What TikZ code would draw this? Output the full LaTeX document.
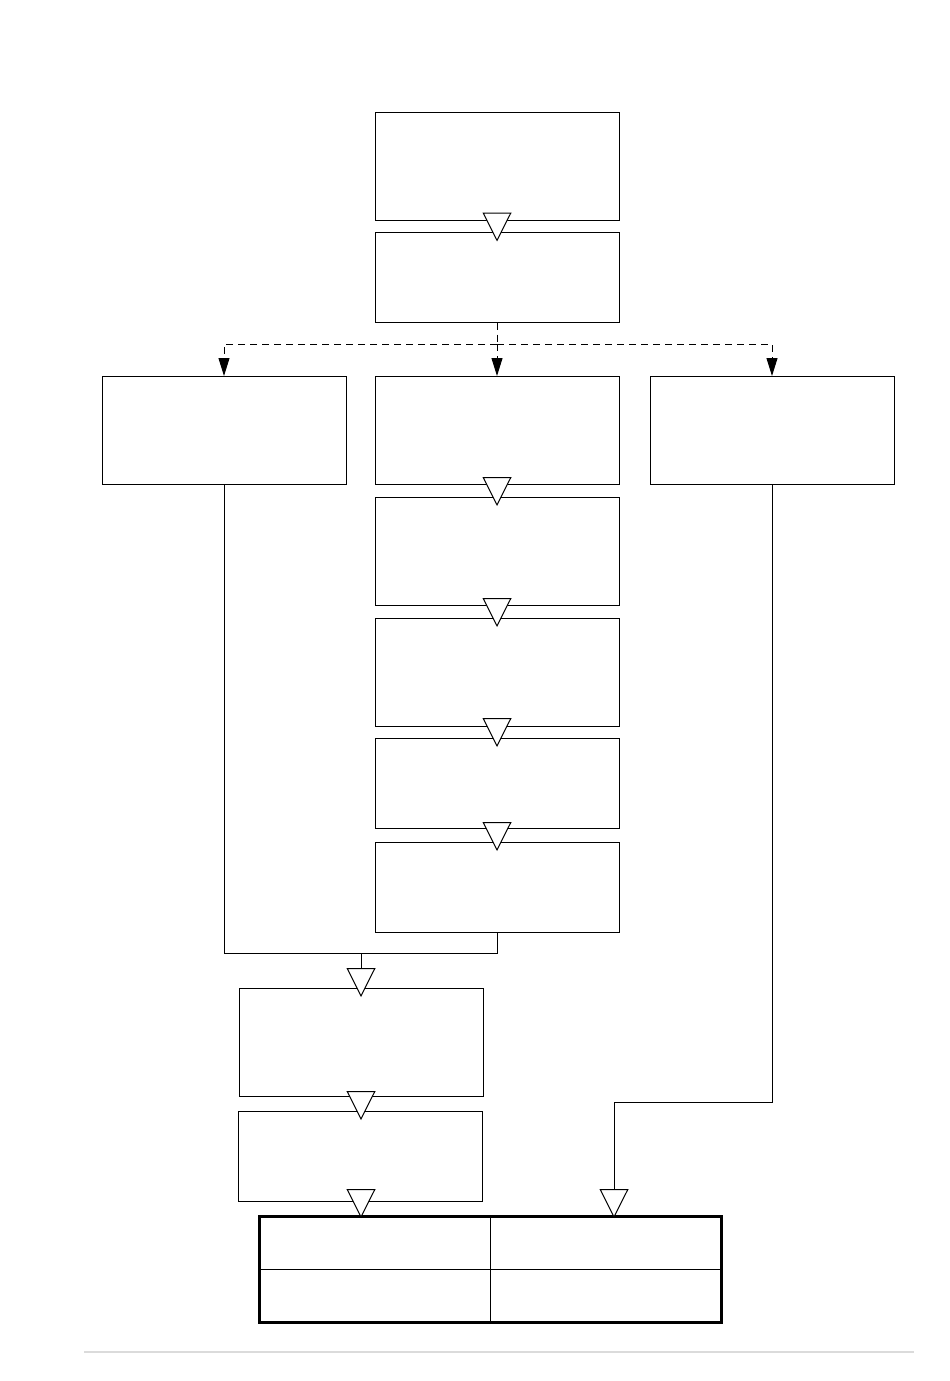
\documentclass[tikz,border=0pt]{standalone}
\usepackage{tikz}
\usetikzlibrary{arrows.meta,positioning}

\begin{document}
\begin{tikzpicture}[x=1pt,y=-1pt,
		box/.style={draw,line width=1pt,outer sep=0pt,minimum width=244pt,minimum height=108pt},
		lowbox/.style={box,minimum height=90pt},
		flow/.style={line width=1pt,-{Triangle[length=29pt,width=29pt,fill=white]},shorten >=-9pt},
		dashlink/.style={line width=1pt,dash pattern=on 7pt off 5pt,-{Triangle[length=18pt,width=11pt]}}]
		\useasboundingbox (0,0) rectangle (950,1381);
		% top of the chart
		\node [box] (a) at (497,166) {};
		\node [lowbox] (b) at (497,277.5) {};
		% three branches
		\node [box] (l) at (224,430) {};
		\node [box] (c1) at (497,430) {};
		\node [box] (r) at (772,430) {};
		\node [box] (c2) at (497,551) {};
		\node [box] (c3) at (497,672) {};
		\node [lowbox] (c4) at (497,783) {};
		\node [lowbox] (c5) at (497,887) {};
		% lower part
		\node [box] (d1) at (361,1042) {};
		\node [lowbox] (d2) at (360,1156) {};
		\node [draw,line width=3pt,outer sep=0pt,minimum width=462pt,minimum height=106pt] (t) at (490,1269) {};
		\draw [line width=1pt] (t.north) -- (t.south);
		\draw [line width=1pt] (t.west) -- (t.east);
		\coordinate (s) at (497,344);
		\coordinate (m) at (361,953);
		\coordinate (k) at (614,1102);
		\draw [flow] (a.south) -- (b.north);
		\draw [line width=1pt,dash pattern=on 7pt off 5pt] (b.south) -- (s);
		\draw [dashlink] (s) -| (l.north);
		\draw [dashlink] (s) -- (c1.north);
		\draw [dashlink] (s) -| (r.north);
		\draw [flow] (c1.south) -- (c2.north);
		\draw [flow] (c2.south) -- (c3.north);
		\draw [flow] (c3.south) -- (c4.north);
		\draw [flow] (c4.south) -- (c5.north);
		\draw [line width=1pt] (l.south) |- (m) -| (c5.south);
		\draw [flow] (m) -- (d1.north -| m);
		\draw [flow] (d1.south -| m) -- (d2.north -| m);
		\draw [flow,shorten >=-2pt] (d2.south -| m) -- (t.north -| m);
		\draw [line width=1pt] (r.south) |- (k);
		\draw [flow,shorten >=-2pt] (k) -- (t.north -| k);
		% rule at the foot of the page
		\draw [line width=2pt,color=black!14] (84,1352) -- (914,1352);
\end{tikzpicture}
\end{document}
